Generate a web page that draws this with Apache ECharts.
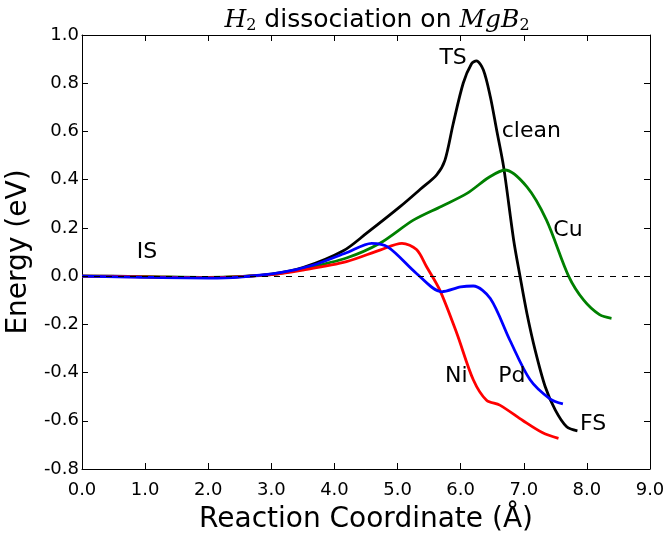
<!DOCTYPE html>
<html>
<head>
  <meta charset="UTF-8">
  <title>H2 dissociation on MgB2</title>
  <style>
    html, body { margin: 0; padding: 0; background: #fff; }
    #main { width: 665px; height: 534px; }
  </style>
</head>
<body>
  <div id="main"></div>
</body>
<script src="https://cdn.jsdelivr.net/npm/echarts@6/dist/echarts.min.js"></script>
<script>
  // reaction coordinate / energy pairs
  const clean = [[0,0],[0.5,0],[1,-0.003],[1.5,-0.006],[2,-0.006],[2.5,-0.002],[3,0.008],[3.5,0.035],
    [4.14,0.105],[4.51,0.178],[5.04,0.288],[5.36,0.36],[5.62,0.42],[5.75,0.48],[5.88,0.63],[6.04,0.80],
    [6.17,0.88],[6.25,0.893],[6.36,0.855],[6.47,0.744],[6.57,0.606],[6.68,0.454],[6.84,0.149],[6.94,0],
    [7.05,-0.155],[7.18,-0.307],[7.34,-0.459],[7.50,-0.556],[7.68,-0.625],[7.85,-0.642]];
  const cu = [[0,0],[1,-0.002],[2,-0.005],[2.5,-0.002],[3,0.006],[3.5,0.03],[4.19,0.075],[4.72,0.136],
    [5.25,0.232],[5.7,0.29],[6.10,0.343],[6.45,0.41],[6.70,0.44],[7.05,0.37],[7.36,0.232],[7.71,0.0],
    [7.95,-0.10],[8.2,-0.16],[8.39,-0.175]];
  const ni = [[0,0],[1,-0.003],[2,-0.006],[3,0.006],[3.5,0.025],[4.19,0.06],[4.72,0.108],[5.07,0.136],
    [5.3,0.11],[5.46,0.039],[5.67,-0.058],[5.94,-0.238],[6.20,-0.43],[6.41,-0.515],[6.62,-0.535],
    [6.99,-0.60],[7.3,-0.65],[7.55,-0.673]];
  const pd = [[0,0],[1,-0.005],[2,-0.008],[2.5,-0.004],[3.14,0.014],[3.67,0.046],[4.19,0.097],[4.59,0.136],
    [4.85,0.12],[5.30,0.011],[5.70,-0.065],[6.0,-0.045],[6.20,-0.041],[6.47,-0.093],[6.78,-0.266],
    [7.10,-0.43],[7.42,-0.51],[7.62,-0.53]];

  // text annotations placed in data coordinates
  const labels = [
    { name: 'IS', value: [1.03, 0.10] },
    { name: 'TS', value: [5.88, 0.905] },
    { name: 'clean', value: [7.12, 0.60] },
    { name: 'Cu', value: [7.70, 0.19] },
    { name: 'Ni', value: [5.93, -0.415] },
    { name: 'Pd', value: [6.81, -0.415] },
    { name: 'FS', value: [8.10, -0.614] }
  ];

  const xTicks = { min: 0, max: 9, interval: 1 };
  const yTicks = { min: -0.8, max: 1.0, interval: 0.2 };

  const font = 'DejaVu Sans';
  const myChart = echarts.init(document.getElementById('main'));

  function line(name, data, color) {
    return {
      name: name, type: 'line', data: data, smooth: 0.3, showSymbol: false,
      lineStyle: { color: color, width: 2.8 }, z: 3
    };
  }

  const axisLine = { show: true, onZero: false, lineStyle: { color: '#000', width: 1 } };
  const tick = { show: true, inside: true, length: 6, lineStyle: { color: '#000' } };

  myChart.setOption({
    animation: false,
    textStyle: { fontFamily: font },
    title: {
      text: '{m|H}{s|2} dissociation on {m|MgB}{s|2}',
      left: 372, textAlign: 'center', top: 1,
      textStyle: {
        fontSize: 25, fontWeight: 'normal', color: '#000', fontFamily: font,
        rich: {
          m: { fontFamily: 'DejaVu Serif', fontStyle: 'italic', fontSize: 25, color: '#000' },
          s: { fontFamily: 'DejaVu Serif', fontSize: 16, verticalAlign: 'bottom', padding: [12, 0, 0, 0], color: '#000' }
        }
      }
    },
    grid: { left: 82, right: 15, top: 35, bottom: 65, containLabel: false, outerBoundsMode: 'none' },
    xAxis: [{
      type: 'value', min: xTicks.min, max: xTicks.max, interval: xTicks.interval,
      name: 'Reaction Coordinate (Å)', nameLocation: 'middle', nameGap: 37,
      nameTextStyle: { fontSize: 28, color: '#000', fontFamily: font },
      axisLine: axisLine, axisTick: tick, splitLine: { show: false },
      axisLabel: { fontSize: 18, color: '#000', margin: 12, formatter: v => v.toFixed(1) }
    }, {
      type: 'value', position: 'top', min: xTicks.min, max: xTicks.max, interval: xTicks.interval,
      axisLine: axisLine, axisTick: tick, splitLine: { show: false }, axisLabel: { show: false }
    }],
    yAxis: [{
      type: 'value', min: yTicks.min, max: yTicks.max, interval: yTicks.interval,
      name: 'Energy (eV)', nameLocation: 'middle', nameGap: 25,
      nameTextStyle: { fontSize: 28, color: '#000', fontFamily: font },
      axisLine: axisLine, axisTick: tick, splitLine: { show: false },
      axisLabel: { fontSize: 18, color: '#000', margin: 3, formatter: v => v.toFixed(1) }
    }, {
      type: 'value', position: 'right', min: yTicks.min, max: yTicks.max, interval: yTicks.interval,
      axisLine: axisLine, axisTick: tick, splitLine: { show: false }, axisLabel: { show: false }
    }],
    series: [
      line('clean', clean, '#000000'),
      Object.assign(line('Cu', cu, '#008000'), {
        markLine: {
          silent: true, symbol: 'none', label: { show: false },
          lineStyle: { color: '#000', type: [6, 6], width: 1 },
          data: [{ yAxis: 0 }]
        }
      }),
      line('Ni', ni, '#ff0000'),
      line('Pd', pd, '#0000ff'),
      {
        type: 'scatter', data: labels, symbolSize: 0, z: 5,
        itemStyle: { opacity: 1 },
        label: { show: true, position: 'inside', formatter: '{b}', fontSize: 22, color: '#000',
          opacity: 1, textBorderWidth: 0, fontFamily: font }
      }
    ]
  });
</script>
</html>
